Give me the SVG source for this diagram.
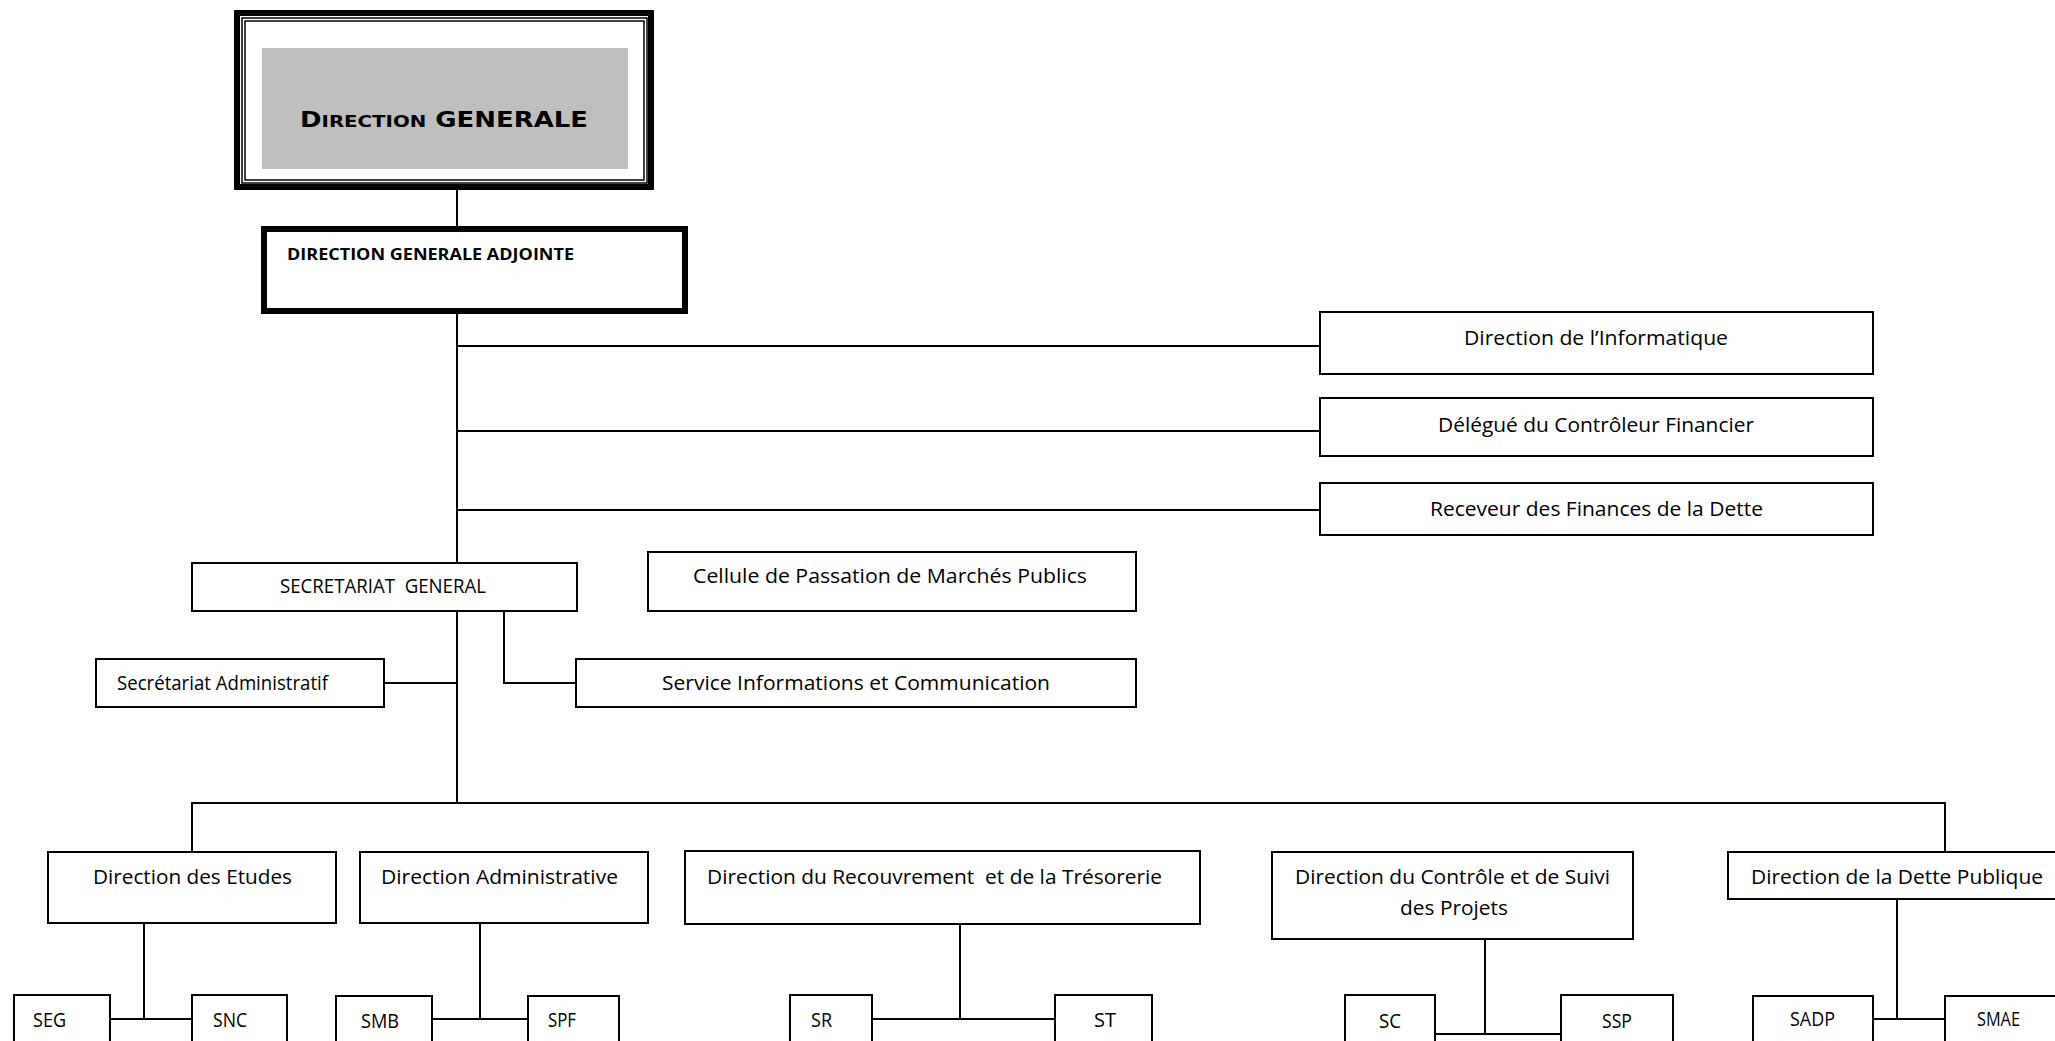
<svg xmlns="http://www.w3.org/2000/svg" width="2055" height="1041" viewBox="0 0 2055 1041">
<style>
  .box { fill: #fff; stroke: #000; stroke-width: 2; }
  .conn { fill: none; stroke: #000; stroke-width: 2; }
  .t { font-family: "Open Sans", "Liberation Sans", sans-serif; font-size: 19.5px; fill: #000; }
  .tb { font-family: "Open Sans", "Liberation Sans", sans-serif; font-size: 16.5px; font-weight: bold; fill: #000; }
  .dg { font-family: "DejaVu Sans", "Liberation Sans", sans-serif; font-weight: bold; fill: #000; }
</style>
<rect x="0" y="0" width="2055" height="1041" fill="#fff"/>

<g id="connectors">
  <path class="conn" d="M457 190 V226"/>
  <path class="conn" d="M457 314 V563"/>
  <path class="conn" d="M457 611 V803"/>
  <path class="conn" d="M457 346 H1320"/>
  <path class="conn" d="M457 431 H1320"/>
  <path class="conn" d="M457 510 H1320"/>
  <path class="conn" d="M504 611 V683 H576"/>
  <path class="conn" d="M384 683 H457"/>
  <path class="conn" d="M192 852 V803 H1945 V852"/>
  <path class="conn" d="M144 923 V1019"/>
  <path class="conn" d="M110 1019 H192"/>
  <path class="conn" d="M480 923 V1019"/>
  <path class="conn" d="M432 1019 H528"/>
  <path class="conn" d="M960 924 V1019"/>
  <path class="conn" d="M872 1019 H1055"/>
  <path class="conn" d="M1485 939 V1034"/>
  <path class="conn" d="M1435 1034 H1561"/>
  <path class="conn" d="M1897 899 V1019"/>
  <path class="conn" d="M1873 1019 H1945"/>
</g>

<g id="direction-generale">
  <rect x="237" y="13" width="414" height="174" fill="#fff" stroke="#000" stroke-width="6"/>
  <rect x="242" y="18" width="405" height="165" fill="none" stroke="#000" stroke-width="1.5"/>
  <rect x="245" y="21" width="399" height="159" fill="none" stroke="#000" stroke-width="1.5"/>
  <rect x="262" y="48" width="366" height="121" fill="#BFBFBF"/>
  <text class="dg" x="300" y="127" textLength="288" lengthAdjust="spacingAndGlyphs"><tspan font-size="21">D</tspan><tspan font-size="16">IRECTION</tspan><tspan font-size="21"> GENERALE</tspan></text>
</g>

<g id="direction-generale-adjointe">
  <rect x="264" y="229" width="421" height="82" fill="#fff" stroke="#000" stroke-width="6"/>
  <text class="tb" x="287" y="260" textLength="287" lengthAdjust="spacingAndGlyphs">DIRECTION GENERALE ADJOINTE</text>
</g>

<g id="direction-informatique">
  <rect class="box" x="1320" y="312" width="553" height="62"/>
  <text class="t" x="1464" y="345" textLength="264" lengthAdjust="spacingAndGlyphs">Direction de l’Informatique</text>
</g>

<g id="delegue-controleur">
  <rect class="box" x="1320" y="398" width="553" height="58"/>
  <text class="t" x="1438" y="432" textLength="316" lengthAdjust="spacingAndGlyphs">Délégué du Contrôleur Financier</text>
</g>

<g id="receveur-finances">
  <rect class="box" x="1320" y="483" width="553" height="52"/>
  <text class="t" x="1430" y="516" textLength="333" lengthAdjust="spacingAndGlyphs">Receveur des Finances de la Dette</text>
</g>

<g id="secretariat-general">
  <rect class="box" x="192" y="563" width="385" height="48"/>
  <text class="t" x="280" y="593" textLength="206" lengthAdjust="spacingAndGlyphs" xml:space="preserve">SECRETARIAT  GENERAL</text>
</g>

<g id="cellule-passation">
  <rect class="box" x="648" y="552" width="488" height="59"/>
  <text class="t" x="693" y="583" textLength="394" lengthAdjust="spacingAndGlyphs">Cellule de Passation de Marchés Publics</text>
</g>

<g id="secretariat-administratif">
  <rect class="box" x="96" y="659" width="288" height="48"/>
  <text class="t" x="117" y="690" textLength="211" lengthAdjust="spacingAndGlyphs">Secrétariat Administratif</text>
</g>

<g id="service-informations">
  <rect class="box" x="576" y="659" width="560" height="48"/>
  <text class="t" x="662" y="690" textLength="388" lengthAdjust="spacingAndGlyphs">Service Informations et Communication</text>
</g>

<g id="direction-etudes">
  <rect class="box" x="48" y="852" width="288" height="71"/>
  <text class="t" x="93" y="884" textLength="199" lengthAdjust="spacingAndGlyphs">Direction des Etudes</text>
</g>

<g id="direction-administrative">
  <rect class="box" x="360" y="852" width="288" height="71"/>
  <text class="t" x="381" y="884" textLength="237" lengthAdjust="spacingAndGlyphs">Direction Administrative</text>
</g>

<g id="direction-recouvrement">
  <rect class="box" x="685" y="851" width="515" height="73"/>
  <text class="t" x="707" y="884" textLength="455" lengthAdjust="spacingAndGlyphs" xml:space="preserve">Direction du Recouvrement  et de la Trésorerie</text>
</g>

<g id="direction-controle">
  <rect class="box" x="1272" y="852" width="361" height="87"/>
  <text class="t" x="1295" y="884" textLength="315" lengthAdjust="spacingAndGlyphs">Direction du Contrôle et de Suivi</text>
  <text class="t" x="1400" y="915" textLength="108" lengthAdjust="spacingAndGlyphs">des Projets</text>
</g>

<g id="direction-dette">
  <rect class="box" x="1728" y="852" width="340" height="47"/>
  <text class="t" x="1751" y="884" textLength="292" lengthAdjust="spacingAndGlyphs">Direction de la Dette Publique</text>
</g>

<g id="seg">
  <rect class="box" x="14" y="995" width="96" height="60"/>
  <text class="t" x="33" y="1027" textLength="33" lengthAdjust="spacingAndGlyphs">SEG</text>
</g>
<g id="snc">
  <rect class="box" x="192" y="995" width="95" height="60"/>
  <text class="t" x="213" y="1027" textLength="34" lengthAdjust="spacingAndGlyphs">SNC</text>
</g>
<g id="smb">
  <rect class="box" x="336" y="996" width="96" height="60"/>
  <text class="t" x="361" y="1028" textLength="38" lengthAdjust="spacingAndGlyphs">SMB</text>
</g>
<g id="spf">
  <rect class="box" x="528" y="996" width="91" height="60"/>
  <text class="t" x="548" y="1027" textLength="28" lengthAdjust="spacingAndGlyphs">SPF</text>
</g>
<g id="sr">
  <rect class="box" x="790" y="995" width="82" height="60"/>
  <text class="t" x="811" y="1027" textLength="21" lengthAdjust="spacingAndGlyphs">SR</text>
</g>
<g id="st">
  <rect class="box" x="1055" y="995" width="97" height="60"/>
  <text class="t" x="1094" y="1027" textLength="22" lengthAdjust="spacingAndGlyphs">ST</text>
</g>
<g id="sc">
  <rect class="box" x="1345" y="995" width="90" height="60"/>
  <text class="t" x="1379" y="1028" textLength="22" lengthAdjust="spacingAndGlyphs">SC</text>
</g>
<g id="ssp">
  <rect class="box" x="1561" y="995" width="112" height="60"/>
  <text class="t" x="1602" y="1028" textLength="30" lengthAdjust="spacingAndGlyphs">SSP</text>
</g>
<g id="sadp">
  <rect class="box" x="1753" y="996" width="120" height="60"/>
  <text class="t" x="1790" y="1026" textLength="45" lengthAdjust="spacingAndGlyphs">SADP</text>
</g>
<g id="smae">
  <rect class="box" x="1945" y="996" width="120" height="60"/>
  <text class="t" x="1977" y="1026" textLength="43" lengthAdjust="spacingAndGlyphs">SMAE</text>
</g>
</svg>
